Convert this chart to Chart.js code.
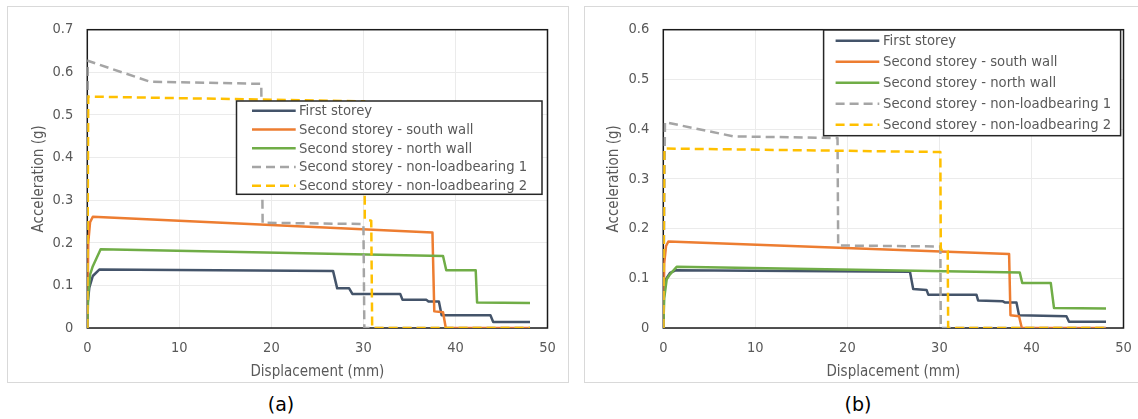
<!DOCTYPE html>
<html>
<head>
<meta charset="utf-8">
<script src="https://cdn.jsdelivr.net/npm/chart.js@4/dist/chart.umd.min.js"></script>
<style>
    body { margin: 0; background: #fff; width: 1138px; height: 419px; overflow: hidden; position: relative; }
    .box { position: absolute; top: 6px; width: 560px; height: 375px; border: 1px solid #d9d9d9; }
    .box canvas { display: block; }
    .cap { position: absolute; top: 393px; width: 60px; margin-left: -30px; text-align: center;
           font: 19px "DejaVu Sans", sans-serif; color: #000; }
</style>
</head>
<body>
<div class="box" style="left:7px"><canvas id="chartA" width="560" height="375"></canvas></div>
<div class="box" style="left:584px"><canvas id="chartB" width="560" height="375"></canvas></div>
<div class="cap" style="left:281px">(a)</div>
<div class="cap" style="left:858px">(b)</div>
<script>
// series names, in legend order
const seriesNames = [
    "First storey",
    "Second storey - south wall",
    "Second storey - north wall",
    "Second storey - non-loadbearing 1",
    "Second storey - non-loadbearing 2",
];

// axis ranges
const xMax = 50, xStep = 10;
const yMaxA = 0.7, yMaxB = 0.6, yStep = 0.1;

// (a) points as [displacement mm, acceleration g]
const firstA = [[0, 0], [0.05, 0.06], [0.22, 0.095], [0.6, 0.122], [1.3, 0.137], [26.7, 0.134], [27.15, 0.093], [28.45, 0.093], [28.8, 0.080], [34.0, 0.080], [34.25, 0.066], [36.85, 0.066], [37.07, 0.062], [38.2, 0.062], [38.5, 0.030], [43.8, 0.030], [44.1, 0.014], [48.1, 0.014]];
const southA = [[0, 0], [0.1, 0.2], [0.3, 0.248], [0.6, 0.261], [37.5, 0.224], [37.7, 0.039], [38.65, 0.037], [38.95, 0], [48.1, 0]];
const northA = [[0, 0], [0.1, 0.08], [0.3, 0.125], [0.6, 0.145], [1.45, 0.185], [38.65, 0.169], [39.0, 0.1355], [42.2, 0.1355], [42.35, 0.060], [48.1, 0.0585]];
const nonLb1A = [[0, 0], [0.05, 0.627], [6.8, 0.578], [18.9, 0.573], [19.05, 0.247], [30.0, 0.244], [30.1, 0], [48.1, 0]];
const nonLb2A = [[0, 0], [0.1, 0.543], [30.1, 0.532], [30.15, 0.255], [30.85, 0.252], [30.95, 0], [48.1, 0]];

// (b)
const firstB = [[0, 0], [0.05, 0.06], [0.18, 0.095], [0.73, 0.111], [1.34, 0.116], [26.8, 0.113], [27.15, 0.0786], [28.6, 0.0766], [28.8, 0.0667], [34.03, 0.0667], [34.2, 0.0554], [36.85, 0.054], [37.1, 0.0515], [38.37, 0.0515], [38.65, 0.0257], [43.8, 0.0238], [44.08, 0.0125], [48.1, 0.0125]];
const southB = [[0, 0], [0.1, 0.13], [0.3, 0.165], [0.55, 0.174], [37.57, 0.149], [37.72, 0.0257], [38.65, 0.0238], [38.95, 0], [48.1, 0]];
const northB = [[0, 0], [0.1, 0.06], [0.37, 0.098], [0.73, 0.108], [1.45, 0.123], [38.73, 0.1115], [39.0, 0.0904], [42.1, 0.0904], [42.45, 0.040], [48.1, 0.039]];
const nonLb1B = [[0, 0], [0.18, 0.414], [7.6, 0.3855], [18.93, 0.382], [19.0, 0.166], [30.1, 0.164], [30.15, 0], [48.1, 0]];
const nonLb2B = [[0, 0], [0.1, 0.361], [30.1, 0.354], [30.15, 0.158], [30.9, 0.155], [30.95, 0], [48.1, 0]];

const colors = ["#44546A", "#ED7D31", "#70AD47", "#A5A5A5", "#FFC000"];
const dashed = [false, false, false, true, true];
const FONT = "'DejaVu Sans Condensed', 'DejaVu Sans', sans-serif";
const TEXT = "#595959";

// plot frame under the lines, boxed legend on top of them
const frameAndLegend = {
    id: "frameAndLegend",
    beforeDatasetsDraw(chart) {
        const { ctx, chartArea: a } = chart;
        ctx.save();
        ctx.strokeStyle = "#1a1a1a";
        ctx.lineWidth = 1.5;
        ctx.strokeRect(a.left, a.top, a.right - a.left, a.bottom - a.top);
        ctx.restore();
    },
    afterDatasetsDraw(chart, args, o) {
        const ctx = chart.ctx;
        ctx.save();
        ctx.fillStyle = "#fff";
        ctx.fillRect(o.x, o.y, o.w, o.h);
        ctx.strokeStyle = "#262626";
        ctx.lineWidth = 1.5;
        ctx.strokeRect(o.x, o.y, o.w, o.h);
        ctx.font = "14.7px " + FONT;
        ctx.textBaseline = "middle";
        chart.data.datasets.forEach((ds, i) => {
            const yy = o.y + o.row0 + i * o.rowGap;
            ctx.beginPath();
            ctx.strokeStyle = ds.borderColor;
            ctx.lineWidth = 2.5;
            ctx.setLineDash(ds.borderDash || []);
            ctx.moveTo(o.x + o.line0, yy);
            ctx.lineTo(o.x + o.line1, yy);
            ctx.stroke();
            ctx.setLineDash([]);
            ctx.fillStyle = TEXT;
            ctx.fillText(ds.label, o.x + o.text, yy + 0.5);
        });
        ctx.restore();
    },
};

function makeDatasets(series) {
    return series.map((pts, i) => ({
        label: seriesNames[i],
        data: pts.map((p) => ({ x: p[0], y: p[1] })),
        borderColor: colors[i],
        backgroundColor: colors[i],
        borderWidth: 2.5,
        borderDash: dashed[i] ? [9, 5] : undefined,
        borderJoinStyle: "round",
        pointRadius: 0,
        tension: 0,
        order: series.length - i, // later series drawn on top, like Excel
    }));
}

function makeChart(id, series, yMax, lay) {
    const ctx = document.getElementById(id).getContext("2d");
    return new Chart(ctx, {
        type: "line",
        data: { datasets: makeDatasets(series) },
        options: {
            responsive: false,
            animation: false,
            devicePixelRatio: 1,
            layout: { padding: { left: 0, top: 18, right: lay.right, bottom: 0 } },
            plugins: {
                legend: { display: false },
                tooltip: { enabled: false },
                frameAndLegend: lay.legend,
            },
            scales: {
                x: {
                    type: "linear",
                    min: 0,
                    max: xMax,
                    afterFit: (s) => { s.height = 54; },
                    border: { display: false },
                    grid: { color: "#ebebeb", drawTicks: false },
                    ticks: { stepSize: xStep, padding: 12, color: TEXT, font: { family: FONT, size: 14.5 } },
                    title: {
                        display: true,
                        text: "Displacement (mm)",
                        color: TEXT,
                        font: { family: FONT, size: 15 },
                        padding: { top: 0, bottom: 1 },
                    },
                },
                y: {
                    min: 0,
                    max: yMax,
                    afterFit: (s) => { s.width = lay.yWidth; },
                    border: { display: false },
                    grid: { color: "#ebebeb", drawTicks: false },
                    ticks: {
                        stepSize: yStep,
                        padding: 14,
                        color: TEXT,
                        font: { family: FONT, size: 14.5 },
                        callback: (v) => String(+v.toFixed(1)),
                    },
                    title: {
                        display: true,
                        text: "Acceleration (g)",
                        color: TEXT,
                        font: { family: FONT, size: 15 },
                        padding: { top: lay.yTitlePad, bottom: 0 },
                    },
                },
            },
        },
        plugins: [frameAndLegend],
    });
}

makeChart("chartA", [firstA, southA, northA, nonLb1A, nonLb2A], yMaxA, {
    right: 20.5,
    yWidth: 79.3,
    yTitlePad: 22,
    legend: { x: 228.5, y: 94, w: 305.5, h: 93.3, row0: 9.7, rowGap: 18.75, line0: 15.5, line1: 59.2, text: 62.5 },
});
makeChart("chartB", [firstB, southB, northB, nonLb1B, nonLb2B], yMaxB, {
    right: 21.5,
    yWidth: 78.3,
    yTitlePad: 20.5,
    legend: { x: 238.6, y: 23, w: 297, h: 105.7, row0: 10.7, rowGap: 21, line0: 12, line1: 55.7, text: 59.4 },
});
</script>
</body>
</html>
